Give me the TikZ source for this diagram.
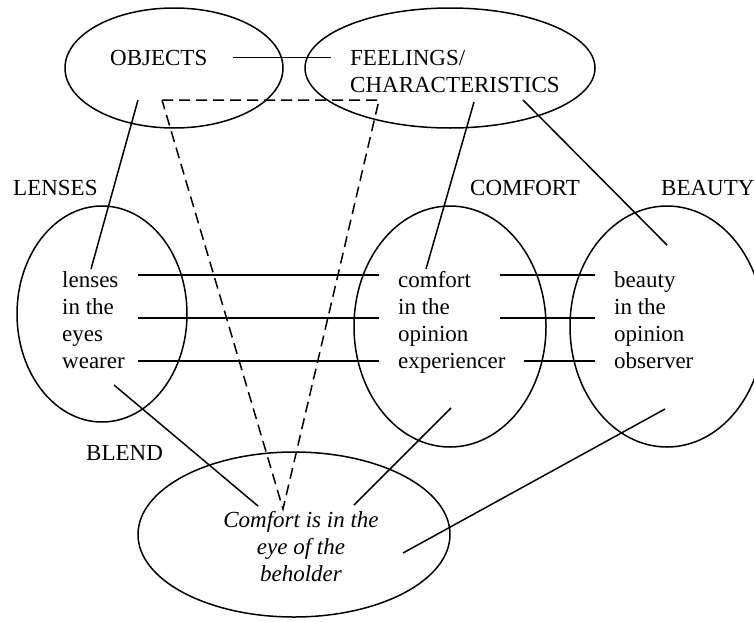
\documentclass[tikz,border=0pt]{standalone}
\usepackage{fontspec}
\setmainfont{Liberation Serif}
\usetikzlibrary{shapes.geometric}

\begin{document}
\begin{tikzpicture}[
x=1pt, y=-1pt,
spacenode/.style={ellipse, draw=black, line width=1.5pt, inner sep=0pt},
wordnode/.style={inner sep=0pt, align=left, anchor=base west, font=\fontsize{23}{27}\selectfont},
link/.style={draw=black, line width=1.5pt},
]
\useasboundingbox (0,0) rectangle (754,621);
%Spaces
\node[spacenode, minimum width=218pt, minimum height=120pt] (objectsspace) at (174,68) {};
\node[spacenode, minimum width=290pt, minimum height=120pt] (feelingsspace) at (450,68) {};
\node[spacenode, minimum width=170pt, minimum height=216pt] (lensesspace) at (102,314) {};
\node[spacenode, minimum width=192pt, minimum height=241pt] (comfortspace) at (450,326.5) {};
\node[spacenode, minimum width=194pt, minimum height=241pt] (beautyspace) at (667,326.5) {};
\node[spacenode, minimum width=312pt, minimum height=165pt] (blendspace) at (294,534.5) {};

%Labels
\node[wordnode] (lenseslabel) at (13,195) {LENSES};
\node[wordnode] (comfortlabel) at (470,195) {COMFORT};
\node[wordnode] (beautylabel) at (661,195) {BEAUTY};
\node[wordnode] (blendlabel) at (86,460) {BLEND};

%Nodes (base = last line)
\node[wordnode] (objects) at (110,65) {OBJECTS};
\node[wordnode] (feelings) at (350,92) {FEELINGS/\\CHARACTERISTICS};
\node[wordnode] (lenses) at (62,368) {lenses\\in the\\eyes\\wearer};
\node[wordnode] (comfort) at (398,368) {comfort\\in the\\opinion\\experiencer};
\node[wordnode] (beauty) at (614,368) {beauty\\in the\\opinion\\observer};
\node[wordnode, align=center, anchor=base, font=\fontsize{23}{27}\selectfont\itshape] (blend) at (301,581) {Comfort is in the\\eye of the\\beholder};

%Lines
\draw[link] ([xshift=25pt]objects.east) -- ([xshift=-19pt]objects.east -| feelings.west);
\draw[link] ([xshift=28pt,yshift=-35pt]objects.base west) -- ([xshift=29pt,yshift=99pt]lenses.base west);
\draw[link] ([xshift=124pt,yshift=-10pt]feelings.base west) -- ([xshift=28pt,yshift=99pt]comfort.base west);
\draw[link] ([xshift=173pt,yshift=-8pt]feelings.base west) -- ([xshift=53pt,yshift=123pt]beauty.base west);

\draw[link] ([xshift=13pt,yshift=93pt]lenses.base east) -- ([xshift=-19pt,yshift=93pt]comfort.base west);
\draw[link, line width=2pt] ([xshift=13pt,yshift=50pt]lenses.base east) -- ([xshift=-19pt,yshift=50pt]comfort.base west);
\draw[link] ([xshift=13pt,yshift=7pt]lenses.base east) -- ([xshift=-19pt,yshift=7pt]comfort.base west);
\draw[link] ([xshift=-6pt,yshift=93pt]comfort.base east) -- ([xshift=-19pt,yshift=93pt]beauty.base west);
\draw[link, line width=2pt] ([xshift=-6pt,yshift=50pt]comfort.base east) -- ([xshift=-19pt,yshift=50pt]beauty.base west);
\draw[link] ([xshift=18pt,yshift=7pt]comfort.base east) -- ([xshift=-19pt,yshift=7pt]beauty.base west);

\draw[link] ([xshift=52pt,yshift=-17pt]lenses.base west) -- ([xshift=-43pt,yshift=75pt]blend.base);
\draw[link] ([xshift=53pt,yshift=-40pt]comfort.base west) -- ([xshift=53pt,yshift=76pt]blend.base);
\draw[link] ([xshift=51pt,yshift=-41pt]beauty.base west) -- ([xshift=102pt,yshift=28pt]blend.base);

\draw[link, dash pattern=on 11pt off 6pt] ([xshift=52pt,yshift=-35pt]objects.base west) -- ([xshift=29pt,yshift=-8pt]feelings.base west) -- ([xshift=-18pt,yshift=72pt]blend.base) -- cycle;

\end{tikzpicture}
\end{document}
